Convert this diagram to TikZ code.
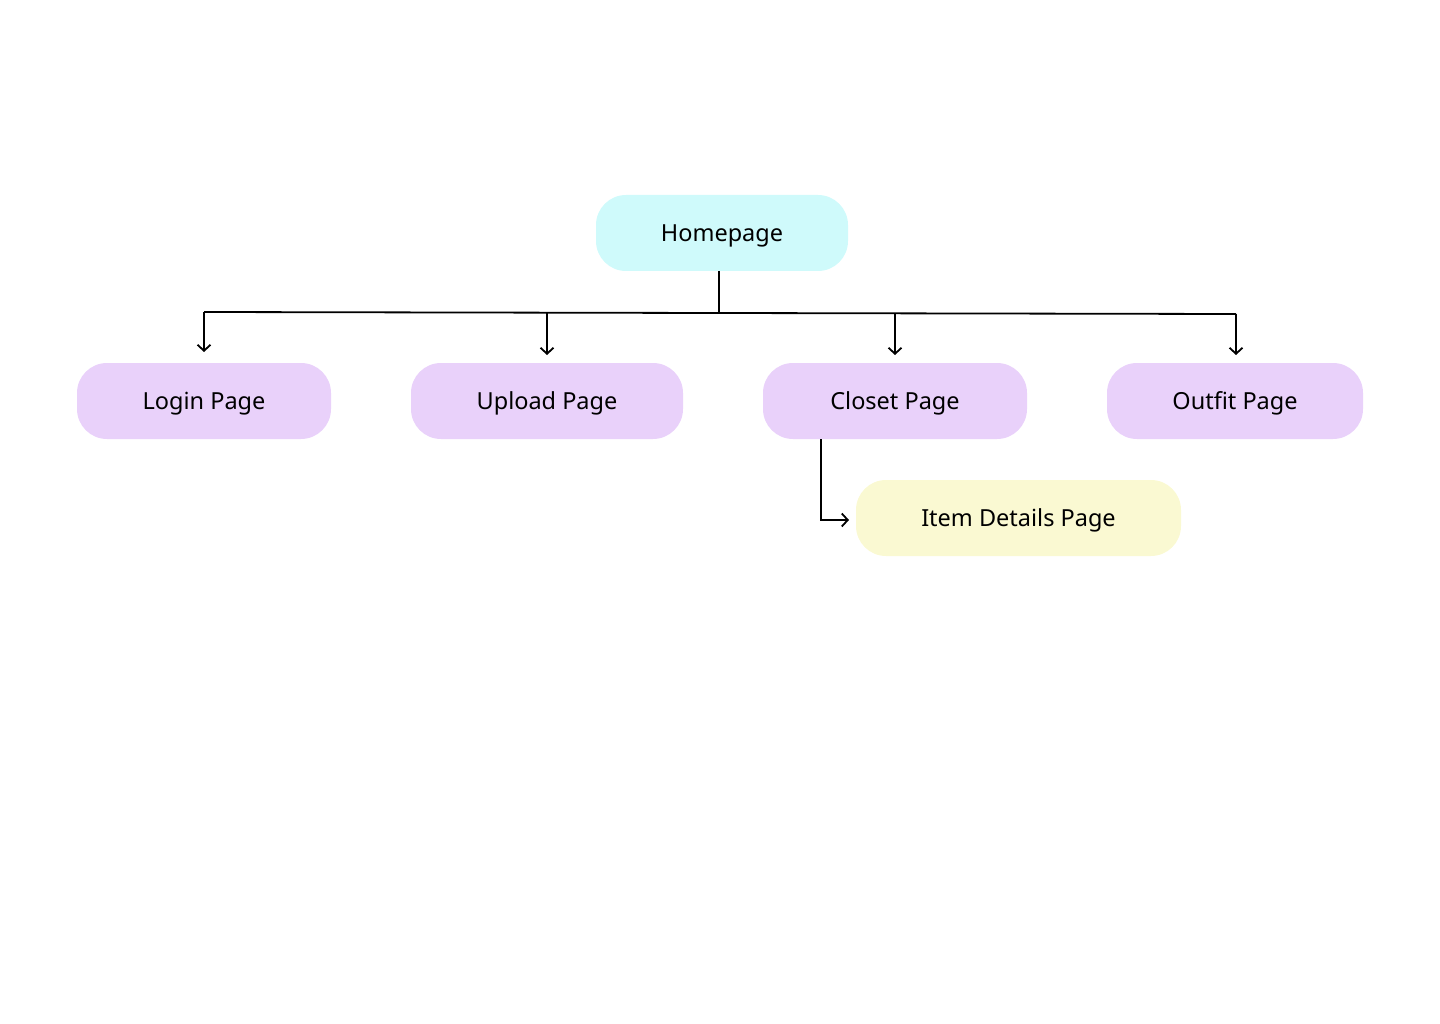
\documentclass[tikz,border=0pt]{standalone}
\usepackage{fontspec}
\setmainfont{Noto Sans}
\usetikzlibrary{arrows.meta}
\definecolor{cyanfill}{HTML}{CFFAFB}
\definecolor{purplefill}{HTML}{E9D1FA}
\definecolor{yellowfill}{HTML}{FAF9D2}
\tikzset{
  pagebox/.style={rounded corners=30pt, minimum height=76pt, inner sep=0pt, text height=17pt, text depth=0pt, font=\fontsize{23.5}{28}\selectfont, text=black},
  conn/.style={line width=1.8pt, draw=black},
  arr/.style={conn, -{Straight Barb[length=6pt,width=13pt,line width=1.8pt]}}
}
\begin{document}
\begin{tikzpicture}[x=1pt,y=-1pt]
\useasboundingbox (0,0) rectangle (1440,1024);
\node[pagebox, fill=cyanfill, minimum width=252pt] (home) at (722,233) {Homepage};
\node[pagebox, fill=purplefill, minimum width=254pt] (login) at (204,401) {Login Page};
\node[pagebox, fill=purplefill, minimum width=272pt] (upload) at (547,401) {Upload Page};
\node[pagebox, fill=purplefill, minimum width=264pt] (closet) at (895,401) {Closet Page};
\node[pagebox, fill=purplefill, minimum width=256pt] (outfit) at (1235,401) {Outfit Page};
\node[pagebox, fill=yellowfill, minimum width=325pt] (item) at (1018.5,518) {Item Details Page};
\coordinate (hb) at (719,271);
\coordinate (hj) at (719,312.5);
\coordinate (jl) at (204,312);
\coordinate (jr) at (1236,314);
\coordinate (tl) at (204,352);
\coordinate (tu) at (547,355);
\coordinate (tc) at (895,355);
\coordinate (to) at (1236,355);
\coordinate (cb) at (821,439);
\coordinate (cc) at (821,520);
\coordinate (ti) at (849,520);
\draw[conn] (hb) -- (hj);
\draw[conn] (jl) -- (jr);
\draw[arr] (jl) -- (tl);
\draw[arr] (547,312.6) -- (tu);
\draw[arr] (895,313.4) -- (tc);
\draw[arr] (jr) -- (to);
\draw[arr] (cb) -- (cc) -- (ti);
\end{tikzpicture}
\end{document}
